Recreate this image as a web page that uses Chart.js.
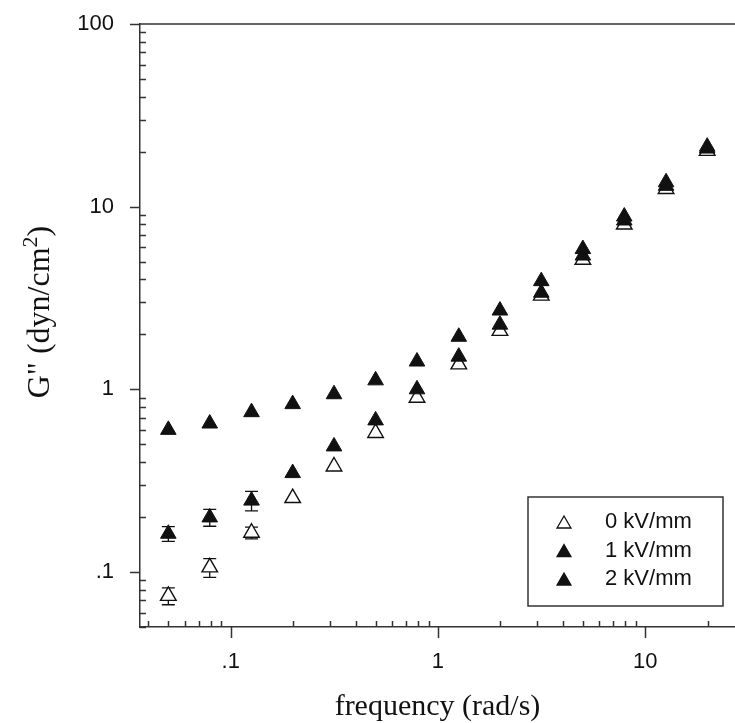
<!DOCTYPE html>
<html>
<head>
<meta charset="utf-8">
<script src="https://cdn.jsdelivr.net/npm/chart.js@4.4.1/dist/chart.umd.min.js"></script>
<style>
  html, body { margin: 0; padding: 0; background: #fff; overflow: hidden; }
  canvas { display: block; }
</style>
</head>
<body>
<canvas id="grafico" width="735" height="723"></canvas>
<script>
// frecuencia (rad/s) y G'' (dyn/cm2)
const frecuencia = [0.05, 0.0792, 0.126, 0.199, 0.315, 0.5, 0.792, 1.26, 1.99, 3.15, 5.0, 7.92, 12.6, 19.9];
const g0kV = [0.074, 0.106, 0.164, 0.254, 0.378, 0.577, 0.90, 1.37, 2.09, 3.26, 5.12, 7.98, 12.5, 20.2];
const g1kV = [0.162, 0.199, 0.246, 0.348, 0.487, 0.676, 1.0, 1.51, 2.26, 3.38, 5.4, 8.4, 13.0, 20.8];
const g2kV = [0.60, 0.65, 0.75, 0.83, 0.94, 1.12, 1.42, 1.94, 2.70, 3.91, 5.86, 8.83, 13.6, 21.3];
// barras de error (+/-), las que no se ven quedan en 0
const err0kV = [0.0078, 0.0125, 0.012, 0, 0, 0, 0, 0, 0, 0, 0, 0, 0, 0];
const err1kV = [0.015, 0.021, 0.03, 0, 0, 0, 0, 0, 0, 0, 0, 0, 0, 0];
const err2kV = [0, 0, 0, 0, 0, 0, 0, 0, 0, 0, 0, 0, 0, 0];
const etiquetasSerie = ['0 kV/mm', '1 kV/mm', '2 kV/mm'];

const ticksX = [0.04, 0.05, 0.06, 0.07, 0.08, 0.09, 0.1, 0.2, 0.3, 0.4, 0.5, 0.6, 0.7, 0.8, 0.9,
                1, 2, 3, 4, 5, 6, 7, 8, 9, 10, 20];
const mayoresX = [0.1, 1, 10];
const etiquetasX = ['.1', '1', '10'];
const ticksY = [0.05, 0.06, 0.07, 0.08, 0.09, 0.1, 0.2, 0.3, 0.4, 0.5, 0.6, 0.7, 0.8, 0.9,
                1, 2, 3, 4, 5, 6, 7, 8, 9, 10, 20, 30, 40, 50, 60, 70, 80, 90, 100];
const mayoresY = [0.1, 1, 10, 100];
const etiquetasY = ['.1', '1', '10', '100'];

const colorEje = '#333';
const colorMarca = '#111';

function puntos(valores) {
    return frecuencia.map((f, i) => ({ x: f, y: valores[i] }));
}

function triangulo(ctx, x, y, r, relleno, borde, ancho) {
    ctx.beginPath();
    ctx.moveTo(x, y - r);
    ctx.lineTo(x + r * 0.866, y + r / 2);
    ctx.lineTo(x - r * 0.866, y + r / 2);
    ctx.closePath();
    ctx.fillStyle = relleno;
    ctx.fill();
    ctx.lineWidth = ancho;
    ctx.strokeStyle = borde;
    ctx.stroke();
}

const barrasError = {
    id: 'barrasError',
    beforeDatasetsDraw(chart) {
        const { ctx, scales } = chart;
        const errores = [err0kV, err1kV, err2kV];
        ctx.save();
        ctx.strokeStyle = colorMarca;
        ctx.lineWidth = 1.3;
        chart.data.datasets.forEach((ds, i) => {
            ds.data.forEach((p, j) => {
                const e = errores[i][j];
                if (!e) return;
                const px = scales.x.getPixelForValue(p.x);
                const arriba = scales.y.getPixelForValue(p.y + e);
                const abajo = scales.y.getPixelForValue(p.y - e);
                ctx.beginPath();
                ctx.moveTo(px, arriba); ctx.lineTo(px, abajo);
                ctx.moveTo(px - 6.5, arriba); ctx.lineTo(px + 6.5, arriba);
                ctx.moveTo(px - 6.5, abajo); ctx.lineTo(px + 6.5, abajo);
                ctx.stroke();
            });
        });
        ctx.restore();
    }
};

const marcasEjes = {
    id: 'marcasEjes',
    afterDraw(chart) {
        const { ctx, chartArea, scales } = chart;
        const izq = chartArea.left, abajo = chartArea.bottom;
        ctx.save();
        ctx.strokeStyle = colorEje;
        ctx.lineWidth = 1.5;
        ctx.beginPath();
        ctx.moveTo(izq, chartArea.top);
        ctx.lineTo(chartArea.right, chartArea.top);
        ticksY.forEach(v => {
            const py = Math.round(scales.y.getPixelForValue(v)) + 0.5;
            if (mayoresY.includes(v)) {
                ctx.moveTo(izq - 10, py); ctx.lineTo(izq, py);
            } else {
                ctx.moveTo(izq, py); ctx.lineTo(izq + 6, py);
            }
        });
        ticksX.forEach(v => {
            const px = Math.round(scales.x.getPixelForValue(v)) + 0.5;
            if (mayoresX.includes(v)) {
                ctx.moveTo(px, abajo); ctx.lineTo(px, abajo + 11);
            } else {
                ctx.moveTo(px, abajo); ctx.lineTo(px, abajo - 6);
            }
        });
        ctx.stroke();

        // titulo del eje y con superindice
        ctx.fillStyle = '#111';
        ctx.textBaseline = 'alphabetic';
        ctx.textAlign = 'left';
        const fuente = '32px "Liberation Serif"';
        const fuenteSup = '22px "Liberation Serif"';
        const partes = ['G" (dyn/cm', '2', ')'];
        ctx.font = fuente;
        const a0 = ctx.measureText(partes[0]).width;
        const a2 = ctx.measureText(partes[2]).width;
        ctx.font = fuenteSup;
        const a1 = ctx.measureText(partes[1]).width;
        const total = a0 + a1 + a2;
        ctx.translate(49, 312);
        ctx.rotate(-Math.PI / 2);
        let x0 = -total / 2;
        ctx.font = fuente;
        ctx.fillText(partes[0], x0, 0);
        ctx.font = fuenteSup;
        ctx.fillText(partes[1], x0 + a0, -12);
        ctx.font = fuente;
        ctx.fillText(partes[2], x0 + a0 + a1, 0);
        ctx.restore();

        // leyenda
        const caja = { ancho: 195, alto: 109 };
        const cx = chartArea.right - 12 - caja.ancho;
        const cy = chartArea.bottom - 21 - caja.alto;
        ctx.save();
        ctx.fillStyle = '#fff';
        ctx.fillRect(cx, cy, caja.ancho, caja.alto);
        ctx.strokeStyle = colorEje;
        ctx.lineWidth = 1.5;
        ctx.strokeRect(cx, cy, caja.ancho, caja.alto);
        ctx.font = '22px "Liberation Sans"';
        ctx.textBaseline = 'middle';
        ctx.textAlign = 'left';
        chart.data.datasets.forEach((ds, i) => {
            const fy = cy + 25 + i * 28.5;
            triangulo(ctx, cx + 36, fy + 2, 8, ds.backgroundColor, ds.borderColor, 1.3);
            ctx.fillStyle = '#111';
            ctx.fillText(ds.label, cx + 77, fy);
        });
        ctx.restore();
    }
};

const fuenteTicks = { family: '"Liberation Sans", Arial, sans-serif', size: 22 };

new Chart(document.getElementById('grafico').getContext('2d'), {
    type: 'scatter',
    data: {
        datasets: [
            {
                label: etiquetasSerie[0],
                data: puntos(g0kV),
                pointStyle: 'triangle',
                pointRadius: 9,
                backgroundColor: '#fff',
                borderColor: colorMarca,
                borderWidth: 1.4,
                order: 2
            },
            {
                label: etiquetasSerie[1],
                data: puntos(g1kV),
                pointStyle: 'triangle',
                pointRadius: 9,
                backgroundColor: colorMarca,
                borderColor: colorMarca,
                borderWidth: 1,
                order: 1
            },
            {
                label: etiquetasSerie[2],
                data: puntos(g2kV),
                pointStyle: 'triangle',
                pointRadius: 9,
                backgroundColor: colorMarca,
                borderColor: colorMarca,
                borderWidth: 1,
                order: 0
            }
        ]
    },
    options: {
        responsive: false,
        animation: false,
        devicePixelRatio: 1,
        layout: { autoPadding: false, padding: { top: 24, right: 0, left: 0, bottom: 0 } },
        plugins: {
            legend: { display: false },
            tooltip: { enabled: false }
        },
        scales: {
            x: {
                type: 'logarithmic',
                min: 0.0365,
                max: 27.1,
                afterFit: (scale) => {
                    scale.height = 96;
                    scale.paddingLeft = 0;
                    scale.paddingRight = 0;
                },
                afterBuildTicks: (scale) => { scale.ticks = ticksX.map(v => ({ value: v })); },
                grid: { display: true, drawOnChartArea: false, drawTicks: false, color: 'rgba(0,0,0,0)' },
                border: { display: true, color: colorEje, width: 1.5 },
                ticks: {
                    autoSkip: false,
                    maxRotation: 0,
                    minRotation: 0,
                    padding: 22,
                    color: '#111',
                    font: fuenteTicks,
                    callback: (v) => {
                        const k = mayoresX.indexOf(v);
                        return k >= 0 ? etiquetasX[k] : '';
                    }
                },
                title: {
                    display: true,
                    text: 'frequency (rad/s)',
                    color: '#111',
                    font: { family: '"Liberation Serif", "Times New Roman", serif', size: 30 },
                    padding: { top: 0, bottom: -2 }
                }
            },
            y: {
                type: 'logarithmic',
                min: 0.05,
                max: 100,
                afterFit: (scale) => {
                    scale.width = 140;
                    scale.paddingTop = 0;
                    scale.paddingBottom = 0;
                },
                afterBuildTicks: (scale) => { scale.ticks = ticksY.map(v => ({ value: v })); },
                grid: { display: true, drawOnChartArea: false, drawTicks: false, color: 'rgba(0,0,0,0)' },
                border: { display: true, color: colorEje, width: 1.5 },
                ticks: {
                    autoSkip: false,
                    padding: 26,
                    color: '#111',
                    font: fuenteTicks,
                    callback: (v) => {
                        const k = mayoresY.indexOf(v);
                        return k >= 0 ? etiquetasY[k] : '';
                    }
                }
            }
        }
    },
    plugins: [barrasError, marcasEjes]
});
</script>
</body>
</html>
